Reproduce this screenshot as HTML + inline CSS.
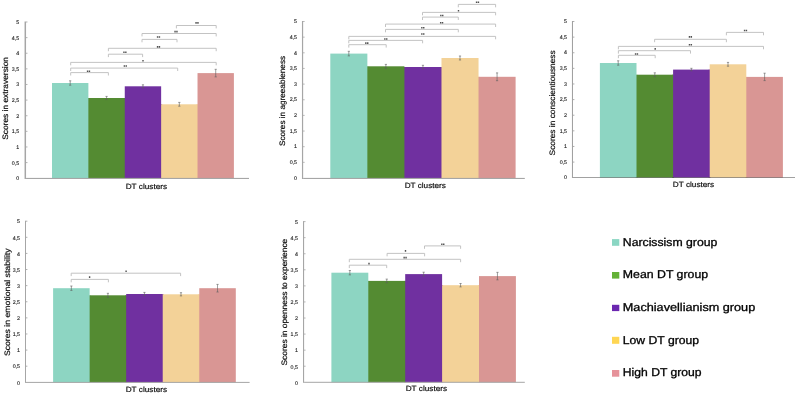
<!DOCTYPE html>
<html><head><meta charset="utf-8"><title>DT clusters</title>
<style>html,body{margin:0;padding:0;background:#fff;}body{width:797px;height:394px;overflow:hidden;font-family:"Liberation Sans",sans-serif;}svg{display:block;will-change:transform;}text{font-family:"Liberation Sans",sans-serif;text-rendering:geometricPrecision;}</style>
</head><body>
<svg width="797" height="394" viewBox="0 0 797 394">
<rect width="797" height="394" fill="#ffffff"/>
<g id="extraversion">
<rect x="52" y="83" width="36.38" height="95.4" fill="#8DD5C2"/>
<rect x="87.38" y="98" width="2" height="80.4" fill="#8DD5C2"/>
<rect x="88.38" y="98" width="36.38" height="80.4" fill="#548B32"/>
<rect x="123.76" y="98" width="2" height="80.4" fill="#548B32"/>
<rect x="124.76" y="86.3" width="36.38" height="92.1" fill="#7030A0"/>
<rect x="160.14" y="104.3" width="2" height="74.1" fill="#7030A0"/>
<rect x="161.14" y="104.3" width="36.38" height="74.1" fill="#F3D298"/>
<rect x="196.52" y="104.3" width="2" height="74.1" fill="#F3D298"/>
<rect x="197.52" y="73.1" width="36.38" height="105.3" fill="#D99694"/>
<rect x="24.55" y="21.5" width="1.5" height="157.5" fill="#a6a6a6"/>
<rect x="26.05" y="177.9" width="222.95" height="1.1" fill="#a6a6a6"/>
<text x="19.1" y="180.2" font-size="5.3" text-anchor="end" fill="#1c1c1c" stroke="#1c1c1c" stroke-width="0.12">0</text>
<text x="19.1" y="164.58" font-size="5.3" text-anchor="end" fill="#1c1c1c" stroke="#1c1c1c" stroke-width="0.12">0,5</text>
<text x="19.1" y="148.96" font-size="5.3" text-anchor="end" fill="#1c1c1c" stroke="#1c1c1c" stroke-width="0.12">1</text>
<text x="19.1" y="133.34" font-size="5.3" text-anchor="end" fill="#1c1c1c" stroke="#1c1c1c" stroke-width="0.12">1,5</text>
<text x="19.1" y="117.72" font-size="5.3" text-anchor="end" fill="#1c1c1c" stroke="#1c1c1c" stroke-width="0.12">2</text>
<text x="19.1" y="102.1" font-size="5.3" text-anchor="end" fill="#1c1c1c" stroke="#1c1c1c" stroke-width="0.12">2,5</text>
<text x="19.1" y="86.48" font-size="5.3" text-anchor="end" fill="#1c1c1c" stroke="#1c1c1c" stroke-width="0.12">3</text>
<text x="19.1" y="70.86" font-size="5.3" text-anchor="end" fill="#1c1c1c" stroke="#1c1c1c" stroke-width="0.12">3,5</text>
<text x="19.1" y="55.24" font-size="5.3" text-anchor="end" fill="#1c1c1c" stroke="#1c1c1c" stroke-width="0.12">4</text>
<text x="19.1" y="39.62" font-size="5.3" text-anchor="end" fill="#1c1c1c" stroke="#1c1c1c" stroke-width="0.12">4,5</text>
<text x="19.1" y="24" font-size="5.3" text-anchor="end" fill="#1c1c1c" stroke="#1c1c1c" stroke-width="0.12">5</text>
<path d="M26.05 162.58 h1.4M26.05 146.96 h1.4M26.05 131.34 h1.4M26.05 115.72 h1.4M26.05 100.1 h1.4M26.05 84.48 h1.4M26.05 68.86 h1.4M26.05 53.24 h1.4M26.05 37.62 h1.4M26.05 22 h1.4" fill="none" stroke="#a6a6a6" stroke-width="0.9"/>
<path d="M70.19 80.8 V85.2 M69.09 80.8 h2.2 M69.09 85.2 h2.2M106.57 96.4 V99.6 M105.47 96.4 h2.2 M105.47 99.6 h2.2M142.95 84.8 V87.8 M141.85 84.8 h2.2 M141.85 87.8 h2.2M179.33 102.4 V106.2 M178.23 102.4 h2.2 M178.23 106.2 h2.2M215.71 69.3 V76.9 M214.61 69.3 h2.2 M214.61 76.9 h2.2" fill="none" stroke="#5e5e5e" stroke-width="0.6"/>
<path d="M176.4 28.4 V25.5 H216.2 V28.4M142 36.4 V33.5 H216.2 V36.4M142 42.3 V39.4 H177 V42.3M108.4 51.2 V48.3 H216.2 V51.2M108.4 57.1 V54.2 H142.6 V57.1M70.7 65.3 V62.4 H216.2 V65.3M70.7 71 V68.1 H177.7 V71M70.7 75.5 V72.6 H108.4 V75.5" fill="none" stroke="#bcbcbc" stroke-width="0.9"/>
<path d="M195.35 22.1h1.4v1.6h-1.4zM197.25 22.1h1.4v1.6h-1.4zM174.35 30.8h1.4v1.6h-1.4zM176.25 30.8h1.4v1.6h-1.4zM156.85 36.2h1.4v1.6h-1.4zM158.75 36.2h1.4v1.6h-1.4zM156.85 46.1h1.4v1.6h-1.4zM158.75 46.1h1.4v1.6h-1.4zM123.25 51.4h1.4v1.6h-1.4zM125.15 51.4h1.4v1.6h-1.4zM142.3 60h1.4v1.6h-1.4zM123.65 65.2h1.4v1.6h-1.4zM125.55 65.2h1.4v1.6h-1.4zM86.85 70.5h1.4v1.6h-1.4zM88.75 70.5h1.4v1.6h-1.4z" fill="#505050"/>
<text transform="translate(8.2 139.8) rotate(-90)" font-size="7.9" textLength="82.8" lengthAdjust="spacingAndGlyphs" fill="#111" stroke="#111" stroke-width="0.2">Scores in extraversion</text>
<text x="125.7" y="188.9" font-size="7.6" textLength="41.4" lengthAdjust="spacingAndGlyphs" fill="#111" stroke="#111" stroke-width="0.2">DT clusters</text>
</g>
<g id="agreeableness">
<rect x="330.3" y="53.6" width="37.06" height="124.8" fill="#8DD5C2"/>
<rect x="366.36" y="66.3" width="2" height="112.1" fill="#8DD5C2"/>
<rect x="367.36" y="66.3" width="37.06" height="112.1" fill="#548B32"/>
<rect x="403.42" y="67" width="2" height="111.4" fill="#548B32"/>
<rect x="404.42" y="67" width="37.06" height="111.4" fill="#7030A0"/>
<rect x="440.48" y="67" width="2" height="111.4" fill="#7030A0"/>
<rect x="441.48" y="58" width="37.06" height="120.4" fill="#F3D298"/>
<rect x="477.54" y="76.8" width="2" height="101.6" fill="#F3D298"/>
<rect x="478.54" y="76.8" width="37.06" height="101.6" fill="#D99694"/>
<rect x="301.95" y="21" width="1.2" height="158" fill="#a6a6a6"/>
<rect x="303.15" y="177.9" width="221.65" height="1.1" fill="#a6a6a6"/>
<text x="297" y="179.7" font-size="5.3" text-anchor="end" fill="#1c1c1c" stroke="#1c1c1c" stroke-width="0.12">0</text>
<text x="297" y="164.05" font-size="5.3" text-anchor="end" fill="#1c1c1c" stroke="#1c1c1c" stroke-width="0.12">0,5</text>
<text x="297" y="148.4" font-size="5.3" text-anchor="end" fill="#1c1c1c" stroke="#1c1c1c" stroke-width="0.12">1</text>
<text x="297" y="132.75" font-size="5.3" text-anchor="end" fill="#1c1c1c" stroke="#1c1c1c" stroke-width="0.12">1,5</text>
<text x="297" y="117.1" font-size="5.3" text-anchor="end" fill="#1c1c1c" stroke="#1c1c1c" stroke-width="0.12">2</text>
<text x="297" y="101.45" font-size="5.3" text-anchor="end" fill="#1c1c1c" stroke="#1c1c1c" stroke-width="0.12">2,5</text>
<text x="297" y="85.8" font-size="5.3" text-anchor="end" fill="#1c1c1c" stroke="#1c1c1c" stroke-width="0.12">3</text>
<text x="297" y="70.15" font-size="5.3" text-anchor="end" fill="#1c1c1c" stroke="#1c1c1c" stroke-width="0.12">3,5</text>
<text x="297" y="54.5" font-size="5.3" text-anchor="end" fill="#1c1c1c" stroke="#1c1c1c" stroke-width="0.12">4</text>
<text x="297" y="38.85" font-size="5.3" text-anchor="end" fill="#1c1c1c" stroke="#1c1c1c" stroke-width="0.12">4,5</text>
<text x="297" y="23.2" font-size="5.3" text-anchor="end" fill="#1c1c1c" stroke="#1c1c1c" stroke-width="0.12">5</text>
<path d="M303.15 162.35 h1.4M303.15 146.7 h1.4M303.15 131.05 h1.4M303.15 115.4 h1.4M303.15 99.75 h1.4M303.15 84.1 h1.4M303.15 68.45 h1.4M303.15 52.8 h1.4M303.15 37.15 h1.4M303.15 21.5 h1.4" fill="none" stroke="#a6a6a6" stroke-width="0.9"/>
<path d="M348.83 51.3 V55.9 M347.73 51.3 h2.2 M347.73 55.9 h2.2M385.89 64.4 V68.2 M384.79 64.4 h2.2 M384.79 68.2 h2.2M422.95 65.3 V68.7 M421.85 65.3 h2.2 M421.85 68.7 h2.2M460.01 56 V60 M458.91 56 h2.2 M458.91 60 h2.2M497.07 72.9 V80.7 M495.97 72.9 h2.2 M495.97 80.7 h2.2" fill="none" stroke="#5e5e5e" stroke-width="0.6"/>
<path d="M458.3 7.3 V4.4 H495.6 V7.3M422.5 15.3 V12.4 H495.6 V15.3M422.5 20 V17.1 H458.3 V20M385.5 27 V24.1 H495.6 V27M385.5 32.3 V29.4 H458.3 V32.3M348.8 39.3 V36.4 H495.6 V39.3M348.8 43.3 V40.4 H422.6 V43.3M348.8 47.6 V44.7 H386.2 V47.6" fill="none" stroke="#bcbcbc" stroke-width="0.9"/>
<path d="M475.85 1.5h1.4v1.6h-1.4zM477.75 1.5h1.4v1.6h-1.4zM457.8 10h1.4v1.6h-1.4zM440.15 14.7h1.4v1.6h-1.4zM442.05 14.7h1.4v1.6h-1.4zM439.95 22h1.4v1.6h-1.4zM441.85 22h1.4v1.6h-1.4zM421.15 26.9h1.4v1.6h-1.4zM423.05 26.9h1.4v1.6h-1.4zM421.15 33.2h1.4v1.6h-1.4zM423.05 33.2h1.4v1.6h-1.4zM384.15 38.2h1.4v1.6h-1.4zM386.05 38.2h1.4v1.6h-1.4zM365.15 42.3h1.4v1.6h-1.4zM367.05 42.3h1.4v1.6h-1.4z" fill="#505050"/>
<text transform="translate(285.2 146) rotate(-90)" font-size="7.9" textLength="90.1" lengthAdjust="spacingAndGlyphs" fill="#111" stroke="#111" stroke-width="0.2">Scores in agreeableness</text>
<text x="404.7" y="187.9" font-size="7.6" textLength="41.2" lengthAdjust="spacingAndGlyphs" fill="#111" stroke="#111" stroke-width="0.2">DT clusters</text>
</g>
<g id="conscientiousness">
<rect x="599.9" y="63" width="36.6" height="114.5" fill="#8DD5C2"/>
<rect x="635.5" y="74.7" width="2" height="102.8" fill="#8DD5C2"/>
<rect x="636.5" y="74.7" width="36.6" height="102.8" fill="#548B32"/>
<rect x="672.1" y="74.7" width="2" height="102.8" fill="#548B32"/>
<rect x="673.1" y="69.6" width="36.6" height="107.9" fill="#7030A0"/>
<rect x="708.7" y="69.6" width="2" height="107.9" fill="#7030A0"/>
<rect x="709.7" y="64.3" width="36.6" height="113.2" fill="#F3D298"/>
<rect x="745.3" y="76.9" width="2" height="100.6" fill="#F3D298"/>
<rect x="746.3" y="76.9" width="36.6" height="100.6" fill="#D99694"/>
<rect x="571.95" y="21" width="1.05" height="157" fill="#000" fill-opacity="0.37"/>
<rect x="573" y="177" width="222" height="1" fill="#000" fill-opacity="0.37"/>
<text x="567" y="179.4" font-size="5.3" text-anchor="end" fill="#1c1c1c" stroke="#1c1c1c" stroke-width="0.12">0</text>
<text x="567" y="163.78" font-size="5.3" text-anchor="end" fill="#1c1c1c" stroke="#1c1c1c" stroke-width="0.12">0,5</text>
<text x="567" y="148.16" font-size="5.3" text-anchor="end" fill="#1c1c1c" stroke="#1c1c1c" stroke-width="0.12">1</text>
<text x="567" y="132.54" font-size="5.3" text-anchor="end" fill="#1c1c1c" stroke="#1c1c1c" stroke-width="0.12">1,5</text>
<text x="567" y="116.92" font-size="5.3" text-anchor="end" fill="#1c1c1c" stroke="#1c1c1c" stroke-width="0.12">2</text>
<text x="567" y="101.3" font-size="5.3" text-anchor="end" fill="#1c1c1c" stroke="#1c1c1c" stroke-width="0.12">2,5</text>
<text x="567" y="85.68" font-size="5.3" text-anchor="end" fill="#1c1c1c" stroke="#1c1c1c" stroke-width="0.12">3</text>
<text x="567" y="70.06" font-size="5.3" text-anchor="end" fill="#1c1c1c" stroke="#1c1c1c" stroke-width="0.12">3,5</text>
<text x="567" y="54.44" font-size="5.3" text-anchor="end" fill="#1c1c1c" stroke="#1c1c1c" stroke-width="0.12">4</text>
<text x="567" y="38.82" font-size="5.3" text-anchor="end" fill="#1c1c1c" stroke="#1c1c1c" stroke-width="0.12">4,5</text>
<text x="567" y="23.2" font-size="5.3" text-anchor="end" fill="#1c1c1c" stroke="#1c1c1c" stroke-width="0.12">5</text>
<path d="M573 162.08 h1.4M573 146.46 h1.4M573 130.84 h1.4M573 115.22 h1.4M573 99.6 h1.4M573 83.98 h1.4M573 68.36 h1.4M573 52.74 h1.4M573 37.12 h1.4M573 21.5 h1.4" fill="none" stroke="#a6a6a6" stroke-width="0.9"/>
<path d="M618.2 60.8 V65.2 M617.1 60.8 h2.2 M617.1 65.2 h2.2M654.8 72.8 V76.6 M653.7 72.8 h2.2 M653.7 76.6 h2.2M691.4 68.3 V70.9 M690.3 68.3 h2.2 M690.3 70.9 h2.2M728 62.4 V66.2 M726.9 62.4 h2.2 M726.9 66.2 h2.2M764.6 73.2 V80.6 M763.5 73.2 h2.2 M763.5 80.6 h2.2" fill="none" stroke="#5e5e5e" stroke-width="0.6"/>
<path d="M726.4 35.3 V32.4 H763.5 V35.3M654.6 42.2 V39.3 H726.4 V42.2M618.4 49.3 V46.4 H763.5 V49.3M618.4 53.6 V50.7 H690.5 V53.6M618.4 58.2 V55.3 H655.2 V58.2" fill="none" stroke="#bcbcbc" stroke-width="0.9"/>
<path d="M743.85 29.7h1.4v1.6h-1.4zM745.75 29.7h1.4v1.6h-1.4zM688.75 36.1h1.4v1.6h-1.4zM690.65 36.1h1.4v1.6h-1.4zM688.75 43.9h1.4v1.6h-1.4zM690.65 43.9h1.4v1.6h-1.4zM654.5 48.1h1.4v1.6h-1.4zM634.85 53.2h1.4v1.6h-1.4zM636.75 53.2h1.4v1.6h-1.4z" fill="#505050"/>
<text transform="translate(555.2 155.4) rotate(-90)" font-size="7.9" textLength="105.1" lengthAdjust="spacingAndGlyphs" fill="#111" stroke="#111" stroke-width="0.2">Scores in conscientiousness</text>
<text x="672.8" y="186.7" font-size="7.6" textLength="41.4" lengthAdjust="spacingAndGlyphs" fill="#111" stroke="#111" stroke-width="0.2">DT clusters</text>
</g>
<g id="emotional">
<rect x="53.1" y="288.2" width="36.54" height="94.2" fill="#8DD5C2"/>
<rect x="88.64" y="295.3" width="2" height="87.1" fill="#8DD5C2"/>
<rect x="89.64" y="295.3" width="36.54" height="87.1" fill="#548B32"/>
<rect x="125.18" y="295.3" width="2" height="87.1" fill="#548B32"/>
<rect x="126.18" y="294" width="36.54" height="88.4" fill="#7030A0"/>
<rect x="161.72" y="294.3" width="2" height="88.1" fill="#7030A0"/>
<rect x="162.72" y="294.3" width="36.54" height="88.1" fill="#F3D298"/>
<rect x="198.26" y="294.3" width="2" height="88.1" fill="#F3D298"/>
<rect x="199.26" y="288.2" width="36.54" height="94.2" fill="#D99694"/>
<rect x="25" y="220.7" width="1" height="162.2" fill="#a6a6a6"/>
<rect x="26" y="381.9" width="223.6" height="1" fill="#a6a6a6"/>
<text x="20" y="384.5" font-size="5.3" text-anchor="end" fill="#1c1c1c" stroke="#1c1c1c" stroke-width="0.12">0</text>
<text x="20" y="368.39" font-size="5.3" text-anchor="end" fill="#1c1c1c" stroke="#1c1c1c" stroke-width="0.12">0,5</text>
<text x="20" y="352.28" font-size="5.3" text-anchor="end" fill="#1c1c1c" stroke="#1c1c1c" stroke-width="0.12">1</text>
<text x="20" y="336.17" font-size="5.3" text-anchor="end" fill="#1c1c1c" stroke="#1c1c1c" stroke-width="0.12">1,5</text>
<text x="20" y="320.06" font-size="5.3" text-anchor="end" fill="#1c1c1c" stroke="#1c1c1c" stroke-width="0.12">2</text>
<text x="20" y="303.95" font-size="5.3" text-anchor="end" fill="#1c1c1c" stroke="#1c1c1c" stroke-width="0.12">2,5</text>
<text x="20" y="287.84" font-size="5.3" text-anchor="end" fill="#1c1c1c" stroke="#1c1c1c" stroke-width="0.12">3</text>
<text x="20" y="271.73" font-size="5.3" text-anchor="end" fill="#1c1c1c" stroke="#1c1c1c" stroke-width="0.12">3,5</text>
<text x="20" y="255.62" font-size="5.3" text-anchor="end" fill="#1c1c1c" stroke="#1c1c1c" stroke-width="0.12">4</text>
<text x="20" y="239.51" font-size="5.3" text-anchor="end" fill="#1c1c1c" stroke="#1c1c1c" stroke-width="0.12">4,5</text>
<text x="20" y="223.4" font-size="5.3" text-anchor="end" fill="#1c1c1c" stroke="#1c1c1c" stroke-width="0.12">5</text>
<path d="M26 366.19 h1.4M26 350.08 h1.4M26 333.97 h1.4M26 317.86 h1.4M26 301.75 h1.4M26 285.64 h1.4M26 269.53 h1.4M26 253.42 h1.4M26 237.31 h1.4M26 221.2 h1.4" fill="none" stroke="#a6a6a6" stroke-width="0.9"/>
<path d="M71.37 286 V290.4 M70.27 286 h2.2 M70.27 290.4 h2.2M107.91 293.3 V297.3 M106.81 293.3 h2.2 M106.81 297.3 h2.2M144.45 292.4 V295.6 M143.35 292.4 h2.2 M143.35 295.6 h2.2M180.99 292.7 V295.9 M179.89 292.7 h2.2 M179.89 295.9 h2.2M217.53 284.4 V292 M216.43 284.4 h2.2 M216.43 292 h2.2" fill="none" stroke="#5e5e5e" stroke-width="0.6"/>
<path d="M71.2 276.1 V273.2 H180.6 V276.1M71.2 282.3 V279.4 H108.4 V282.3" fill="none" stroke="#bcbcbc" stroke-width="0.9"/>
<path d="M125.4 270.4h1.4v1.6h-1.4zM88.9 276.3h1.4v1.6h-1.4z" fill="#505050"/>
<text transform="translate(10.4 356.1) rotate(-90)" font-size="7.9" textLength="107.7" lengthAdjust="spacingAndGlyphs" fill="#111" stroke="#111" stroke-width="0.2">Scores in emotional stability</text>
<text x="125.7" y="391.6" font-size="7.6" textLength="41.4" lengthAdjust="spacingAndGlyphs" fill="#111" stroke="#111" stroke-width="0.2">DT clusters</text>
</g>
<g id="openness">
<rect x="331.4" y="272.7" width="36.9" height="109.6" fill="#8DD5C2"/>
<rect x="367.3" y="280.9" width="2" height="101.4" fill="#8DD5C2"/>
<rect x="368.3" y="280.9" width="36.9" height="101.4" fill="#548B32"/>
<rect x="404.2" y="280.9" width="2" height="101.4" fill="#548B32"/>
<rect x="405.2" y="274.1" width="36.9" height="108.2" fill="#7030A0"/>
<rect x="441.1" y="285.2" width="2" height="97.1" fill="#7030A0"/>
<rect x="442.1" y="285.2" width="36.9" height="97.1" fill="#F3D298"/>
<rect x="478" y="285.2" width="2" height="97.1" fill="#F3D298"/>
<rect x="479" y="276.1" width="36.9" height="106.2" fill="#D99694"/>
<rect x="303" y="221.1" width="1.1" height="161.7" fill="#a6a6a6"/>
<rect x="304.1" y="381.8" width="220.7" height="1" fill="#a6a6a6"/>
<text x="297.9" y="384.6" font-size="5.3" text-anchor="end" fill="#1c1c1c" stroke="#1c1c1c" stroke-width="0.12">0</text>
<text x="297.9" y="368.53" font-size="5.3" text-anchor="end" fill="#1c1c1c" stroke="#1c1c1c" stroke-width="0.12">0,5</text>
<text x="297.9" y="352.46" font-size="5.3" text-anchor="end" fill="#1c1c1c" stroke="#1c1c1c" stroke-width="0.12">1</text>
<text x="297.9" y="336.39" font-size="5.3" text-anchor="end" fill="#1c1c1c" stroke="#1c1c1c" stroke-width="0.12">1,5</text>
<text x="297.9" y="320.32" font-size="5.3" text-anchor="end" fill="#1c1c1c" stroke="#1c1c1c" stroke-width="0.12">2</text>
<text x="297.9" y="304.25" font-size="5.3" text-anchor="end" fill="#1c1c1c" stroke="#1c1c1c" stroke-width="0.12">2,5</text>
<text x="297.9" y="288.18" font-size="5.3" text-anchor="end" fill="#1c1c1c" stroke="#1c1c1c" stroke-width="0.12">3</text>
<text x="297.9" y="272.11" font-size="5.3" text-anchor="end" fill="#1c1c1c" stroke="#1c1c1c" stroke-width="0.12">3,5</text>
<text x="297.9" y="256.04" font-size="5.3" text-anchor="end" fill="#1c1c1c" stroke="#1c1c1c" stroke-width="0.12">4</text>
<text x="297.9" y="239.97" font-size="5.3" text-anchor="end" fill="#1c1c1c" stroke="#1c1c1c" stroke-width="0.12">4,5</text>
<text x="297.9" y="223.9" font-size="5.3" text-anchor="end" fill="#1c1c1c" stroke="#1c1c1c" stroke-width="0.12">5</text>
<path d="M304.1 366.23 h1.4M304.1 350.16 h1.4M304.1 334.09 h1.4M304.1 318.02 h1.4M304.1 301.95 h1.4M304.1 285.88 h1.4M304.1 269.81 h1.4M304.1 253.74 h1.4M304.1 237.67 h1.4M304.1 221.6 h1.4" fill="none" stroke="#a6a6a6" stroke-width="0.9"/>
<path d="M349.85 270.5 V274.9 M348.75 270.5 h2.2 M348.75 274.9 h2.2M386.75 279.1 V282.7 M385.65 279.1 h2.2 M385.65 282.7 h2.2M423.65 272.2 V276 M422.55 272.2 h2.2 M422.55 276 h2.2M460.55 283.5 V286.9 M459.45 283.5 h2.2 M459.45 286.9 h2.2M497.45 272.35 V279.85 M496.35 272.35 h2.2 M496.35 279.85 h2.2" fill="none" stroke="#5e5e5e" stroke-width="0.6"/>
<path d="M424.5 248.8 V245.9 H460.6 V248.8M387.1 256.3 V253.4 H424.6 V256.3M349.3 262.2 V259.3 H460.6 V262.2M349.3 268.1 V265.2 H386.7 V268.1" fill="none" stroke="#bcbcbc" stroke-width="0.9"/>
<path d="M441.15 243.5h1.4v1.6h-1.4zM443.05 243.5h1.4v1.6h-1.4zM404.8 250.1h1.4v1.6h-1.4zM403.45 256.8h1.4v1.6h-1.4zM405.35 256.8h1.4v1.6h-1.4zM368.3 262.8h1.4v1.6h-1.4z" fill="#505050"/>
<text transform="translate(286.8 365.6) rotate(-90)" font-size="7.9" textLength="126.9" lengthAdjust="spacingAndGlyphs" fill="#111" stroke="#111" stroke-width="0.2">Scores in openness to experience</text>
<text x="405.7" y="391.3" font-size="7.6" textLength="41.4" lengthAdjust="spacingAndGlyphs" fill="#111" stroke="#111" stroke-width="0.2">DT clusters</text>
</g>
<g id="legend">
<rect x="612" y="239.1" width="7.3" height="6.7" fill="#8AD6C3"/>
<text x="622.8" y="245.7" font-size="11.3" textLength="94.5" lengthAdjust="spacingAndGlyphs" fill="#000" stroke="#000" stroke-width="0.3">Narcissism group</text>
<rect x="612" y="272" width="7.3" height="6.6" fill="#64B136"/>
<text x="622.8" y="278.4" font-size="11.3" textLength="85.3" lengthAdjust="spacingAndGlyphs" fill="#000" stroke="#000" stroke-width="0.3">Mean DT group</text>
<rect x="612" y="304.8" width="7.3" height="6.3" fill="#6B27B0"/>
<text x="622.8" y="311.2" font-size="11.3" textLength="132.4" lengthAdjust="spacingAndGlyphs" fill="#000" stroke="#000" stroke-width="0.3">Machiavellianism group</text>
<rect x="612" y="336.8" width="7.3" height="7" fill="#FFD653"/>
<text x="622.8" y="344.2" font-size="11.3" textLength="76.2" lengthAdjust="spacingAndGlyphs" fill="#000" stroke="#000" stroke-width="0.3">Low DT group</text>
<rect x="612" y="370" width="7.3" height="6.7" fill="#E6929A"/>
<text x="622.8" y="376.2" font-size="11.3" textLength="78.7" lengthAdjust="spacingAndGlyphs" fill="#000" stroke="#000" stroke-width="0.3">High DT group</text>
</g>
</svg>
</body></html>
